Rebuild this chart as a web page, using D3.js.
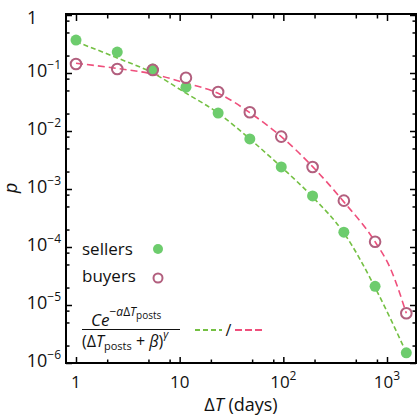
<!DOCTYPE html>
<html><head><meta charset="utf-8">
<script src="https://cdn.jsdelivr.net/npm/d3@7"></script>
<style>
html,body{margin:0;padding:0;background:#fff;}
svg{display:block;font-family:"Open Sans",sans-serif;}
</style></head>
<body><svg id="c" width="418" height="417"></svg>
<script>
// ---- data ----
const dtDays   = [1, 2.5, 5.5, 11.5, 23.5, 47.5, 95.5, 191.5, 383.5, 767.5, 1535.5];
const sellers  = [0.37, 0.23, 0.117, 0.057, 0.0204, 0.0073, 0.0024, 7.6e-4, 1.8e-4, 2.1e-5, 1.5e-6];
const buyers   = [0.143, 0.117, 0.113, 0.083, 0.047, 0.021, 0.0080, 0.0024, 6.3e-4, 1.23e-4, 7.2e-6];
const fitDays    = [1, 2.5, 5.5, 11.5, 23.5, 47.5, 95.5, 191.5, 383.5, 767.5, 1070, 1535.5];
const sellersFit = [0.346, 0.182, 0.10, 0.045, 0.0204, 0.0073, 0.0024, 7.3e-4, 1.75e-4, 2.0e-5, 6e-6, 1.5e-6];
const buyersFit  = [0.147, 0.12, 0.096, 0.067, 0.0447, 0.0207, 0.0080, 0.00243, 6.0e-4, 1.23e-4, 4.4e-5, 7.2e-6];
const xMajor = [1, 10, 100, 1000];
const xMajorLabels = [["1",""],["10",""],["10","2"],["10","3"]];
const xMinor = [2,5,8,20,50,80,200,500,800];
const yMajor = [1, 1e-1, 1e-2, 1e-3, 1e-4, 1e-5, 1e-6];
const yMajorLabels = [["1",""],["10","−1"],["10","−2"],["10","−3"],["10","−4"],["10","−5"],["10","−6"]];
const yMinor = [0.8,0.5,0.2,0.08,0.05,0.02,0.008,0.005,0.002,8e-4,5e-4,2e-4,8e-5,5e-5,2e-5,8e-6,5e-6,2e-6];

const C = {green:"#74c043", dot:"#6dcc6d", pink:"#ef4f7c", ring:"#b25f7e"};
const L=66, R=416, T=15, B=363;

const svg = d3.select("#c");
const x = d3.scaleLog().domain([0.801, 1904]).range([L, R]);
const y = d3.scaleLog().domain([1e-6, 1]).range([B, T]);

// frame + inward ticks
const g = svg.append("g");
function ax(axisFn, scale, transform, size, vals){
  g.append("g").attr("transform", transform)
   .call(axisFn(scale).tickValues(vals).tickSize(size).tickFormat(""))
   .call(s=>{s.select(".domain").remove(); s.selectAll("line").attr("stroke","#000").attr("stroke-width",1.5);});
}
ax(d3.axisBottom, x, `translate(0,${B})`, -6, xMajor);
ax(d3.axisBottom, x, `translate(0,${B})`, -3.5, xMinor);
ax(d3.axisTop, x, `translate(0,${T})`, -6, xMajor);
ax(d3.axisTop, x, `translate(0,${T})`, -3.5, xMinor);
ax(d3.axisLeft, y, `translate(${L},0)`, -6, yMajor);
ax(d3.axisLeft, y, `translate(${L},0)`, -3.5, yMinor);
ax(d3.axisRight, y, `translate(${R},0)`, -6, yMajor);
ax(d3.axisRight, y, `translate(${R},0)`, -3.5, yMinor);
g.append("rect").attr("x",L).attr("y",T-1).attr("width",R-L).attr("height",B-T+1)
 .attr("fill","none").attr("stroke","#000").attr("stroke-width",2);

// tick labels
xMajor.forEach((v,i)=>{
  const [b,e]=xMajorLabels[i];
  const t=svg.append("text").attr("x",x(v)).attr("y",388).attr("text-anchor","middle")
    .attr("font-size",17).attr("fill","#111");
  t.append("tspan").text(b);
  if(e) t.append("tspan").attr("dy",-8).attr("font-size",12).text(e);
});
yMajor.forEach((v,i)=>{
  const [b,e]=yMajorLabels[i];
  if(!e){
    svg.append("text").attr("x",27).attr("y",y(v)+9).attr("font-size",18).attr("fill","#111").text(b);
    return;
  }
  const t=svg.append("text").attr("x",61).attr("y",y(v)+4).attr("text-anchor","end")
    .attr("font-size",18).attr("fill","#111");
  t.append("tspan").text(b);
  t.append("tspan").attr("dy",-8).attr("font-size",12).text(e);
});

// axis titles
svg.append("text").attr("transform",`translate(17,188) rotate(-90)`).attr("text-anchor","middle")
  .attr("font-family","'Liberation Sans',sans-serif")
  .attr("font-size",18).attr("font-style","italic").attr("fill","#111").text("p");
const xt=svg.append("text").attr("x",241).attr("y",411).attr("text-anchor","middle").attr("font-size",18).attr("fill","#111");
xt.append("tspan").text("Δ");
xt.append("tspan").attr("font-style","italic").text("T");
xt.append("tspan").text(" (days)");

// fit lines
const line = d3.line().x(d=>x(d[0])).y(d=>y(d[1])).curve(d3.curveMonotoneX);
svg.append("path").datum(fitDays.map((d,i)=>[d,buyersFit[i]])).attr("d",line)
  .attr("fill","none").attr("stroke",C.pink).attr("stroke-width",1.6).attr("stroke-dasharray","7,4");
svg.append("path").datum(fitDays.map((d,i)=>[d,sellersFit[i]])).attr("d",line)
  .attr("fill","none").attr("stroke",C.green).attr("stroke-width",1.6).attr("stroke-dasharray","5,3");

// points
svg.append("g").selectAll("circle").data(dtDays).join("circle")
  .attr("cx",d=>x(d)).attr("cy",(d,i)=>y(sellers[i])).attr("r",5.5).attr("fill",C.dot);
svg.append("g").selectAll("circle").data(dtDays).join("circle")
  .attr("cx",d=>x(d)).attr("cy",(d,i)=>y(buyers[i])).attr("r",5.3).attr("fill","none")
  .attr("stroke",C.ring).attr("stroke-width",2);

// legend
svg.append("text").attr("x",82).attr("y",255).attr("font-size",17).attr("fill","#111").text("sellers");
svg.append("circle").attr("cx",158).attr("cy",249).attr("r",5).attr("fill",C.dot);
svg.append("text").attr("x",82).attr("y",282).attr("font-size",17).attr("fill","#111").text("buyers");
svg.append("circle").attr("cx",158).attr("cy",278).attr("r",4.5).attr("fill","none").attr("stroke",C.ring).attr("stroke-width",2);

const num=svg.append("text").attr("x",91).attr("y",326).attr("font-size",17).attr("fill","#111");
num.append("tspan").attr("font-style","italic").text("Ce");
num.append("tspan").attr("dy",-10).attr("font-size",12).text("−");
num.append("tspan").attr("font-size",12).attr("font-style","italic").text("a");
num.append("tspan").attr("font-size",12).text("Δ");
num.append("tspan").attr("font-size",12).attr("font-style","italic").text("T");
num.append("tspan").attr("dy",3).attr("font-size",10).text("posts");
svg.append("line").attr("x1",82).attr("x2",180).attr("y1",329.5).attr("y2",329.5).attr("stroke","#111").attr("stroke-width",1.2);
const den=svg.append("text").attr("x",82).attr("y",347).attr("font-size",16).attr("fill","#111");
den.append("tspan").text("(Δ");
den.append("tspan").attr("font-style","italic").text("T");
den.append("tspan").attr("dy",3).attr("font-size",11).text("posts");
den.append("tspan").attr("dy",-3).text(" + ");
den.append("tspan").attr("font-style","italic").text("β");
den.append("tspan").text(")");
den.append("tspan").attr("dy",-9).attr("font-size",11).attr("font-style","italic").text("γ");

svg.append("line").attr("x1",195).attr("x2",222).attr("y1",330).attr("y2",330)
  .attr("stroke",C.green).attr("stroke-width",1.8).attr("stroke-dasharray","5,3");
svg.append("text").attr("x",228.5).attr("y",336).attr("text-anchor","middle").attr("font-size",16).attr("fill","#111").text("/");
svg.append("line").attr("x1",235).attr("x2",263).attr("y1",330).attr("y2",330)
  .attr("stroke",C.pink).attr("stroke-width",1.8).attr("stroke-dasharray","7,3");
</script></body></html>
